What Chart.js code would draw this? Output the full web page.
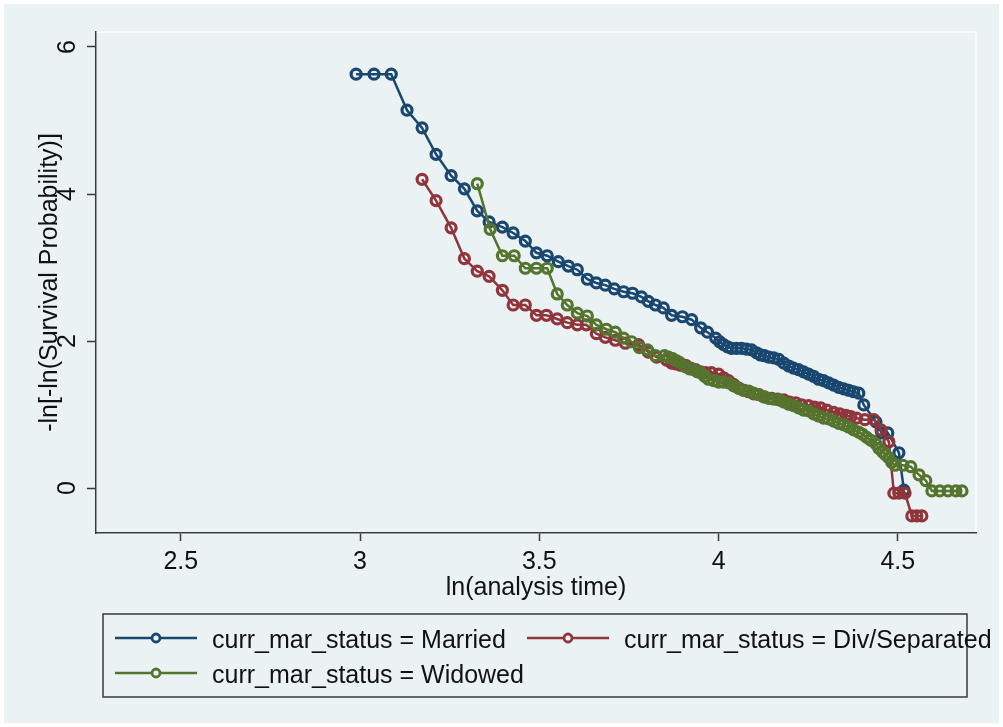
<!DOCTYPE html>
<html>
<head>
<meta charset="utf-8">
<script src="https://cdn.jsdelivr.net/npm/chart.js@4.4.1/dist/chart.umd.min.js"></script>
<style>
  html, body { margin: 0; padding: 0; background: #ffffff; }
  #wrap { width: 1003px; height: 727px; }
</style>
</head>
<body>
<div id="wrap"><canvas id="chartLogLog" width="1003" height="727"></canvas></div>
<script>
// log-log survival curves, one series per marital status
const xTicks = [2.5, 3, 3.5, 4, 4.5];
const yTicks = [0, 2, 4, 6];

const marriedX = [2.989, 3.039, 3.087, 3.131, 3.173, 3.212, 3.254, 3.291, 3.327, 3.360,
  3.397, 3.427, 3.461, 3.492, 3.522, 3.553, 3.581, 3.606, 3.634, 3.659,
  3.684, 3.709, 3.735, 3.760, 3.785, 3.804, 3.824, 3.846, 3.869, 3.899,
  3.925, 3.950, 3.969, 3.992, 4.003, 4.014, 4.025, 4.036, 4.050, 4.064,
  4.078, 4.092, 4.106, 4.117, 4.128, 4.140, 4.154, 4.168, 4.182, 4.196,
  4.209, 4.223, 4.237, 4.251, 4.265, 4.279, 4.293, 4.307, 4.321, 4.335,
  4.349, 4.363, 4.377, 4.391, 4.405, 4.439, 4.455, 4.472, 4.503, 4.517];
const marriedY = [5.63, 5.63, 5.63, 5.14, 4.90, 4.54, 4.25, 4.07, 3.77, 3.62,
  3.55, 3.47, 3.36, 3.20, 3.16, 3.08, 3.02, 2.97, 2.84, 2.79,
  2.76, 2.71, 2.67, 2.65, 2.60, 2.54, 2.49, 2.45, 2.35, 2.33,
  2.29, 2.18, 2.12, 2.04, 1.99, 1.95, 1.92, 1.90, 1.90, 1.90,
  1.89, 1.88, 1.84, 1.81, 1.80, 1.78, 1.77, 1.75, 1.70, 1.66,
  1.63, 1.61, 1.58, 1.55, 1.52, 1.48, 1.46, 1.43, 1.40, 1.37,
  1.35, 1.33, 1.31, 1.29, 1.13, 0.90, 0.75, 0.75, 0.48, -0.03];

const divorcedX = [3.173, 3.212, 3.254, 3.291, 3.327, 3.360, 3.397, 3.427, 3.461, 3.492,
  3.520, 3.550, 3.578, 3.606, 3.631, 3.659, 3.684, 3.712, 3.740, 3.777,
  3.804, 3.827, 3.855, 3.869, 3.880, 3.894, 3.908, 3.922, 3.936, 3.950,
  3.964, 3.980, 4.000, 4.014, 4.028, 4.042, 4.056, 4.070, 4.084, 4.098,
  4.112, 4.128, 4.148, 4.165, 4.182, 4.198, 4.215, 4.232, 4.251, 4.268,
  4.285, 4.302, 4.321, 4.338, 4.355, 4.369, 4.385, 4.408, 4.433, 4.453,
  4.475, 4.489, 4.503, 4.520, 4.539, 4.553, 4.567];
const divorcedY = [4.20, 3.91, 3.54, 3.12, 2.95, 2.88, 2.69, 2.49, 2.49, 2.35,
  2.35, 2.30, 2.25, 2.22, 2.22, 2.10, 2.05, 2.01, 1.97, 1.95,
  1.85, 1.78, 1.74, 1.70, 1.69, 1.67, 1.67, 1.63, 1.61, 1.58,
  1.57, 1.57, 1.55, 1.50, 1.46, 1.41, 1.36, 1.33, 1.31, 1.28,
  1.27, 1.24, 1.22, 1.21, 1.20, 1.17, 1.16, 1.13, 1.12, 1.10,
  1.09, 1.06, 1.03, 1.01, 0.99, 0.97, 0.95, 0.93, 0.93, 0.79,
  0.63, -0.07, -0.07, -0.07, -0.38, -0.38, -0.38];

const widowedX = [3.327, 3.363, 3.397, 3.430, 3.461, 3.492, 3.522, 3.550, 3.578, 3.606,
  3.634, 3.659, 3.687, 3.712, 3.735, 3.757, 3.779, 3.802, 3.824, 3.849,
  3.860, 3.872, 3.883, 3.891, 3.908, 3.919, 3.930, 3.941, 3.950, 3.961,
  3.972, 3.986, 4.000, 4.014, 4.028, 4.042, 4.056, 4.070, 4.084, 4.098,
  4.112, 4.126, 4.140, 4.154, 4.168, 4.182, 4.196, 4.209, 4.223, 4.237,
  4.251, 4.265, 4.279, 4.293, 4.307, 4.321, 4.335, 4.349, 4.363, 4.377,
  4.391, 4.402, 4.413, 4.425, 4.439, 4.447, 4.458, 4.466, 4.475, 4.483,
  4.492, 4.514, 4.536, 4.559, 4.578, 4.595, 4.617, 4.640, 4.662, 4.679];
const widowedY = [4.14, 3.52, 3.16, 3.16, 2.99, 2.99, 2.99, 2.64, 2.49, 2.38,
  2.34, 2.22, 2.16, 2.12, 2.04, 1.99, 1.91, 1.88, 1.80, 1.80,
  1.78, 1.76, 1.73, 1.71, 1.65, 1.62, 1.61, 1.58, 1.57, 1.52,
  1.48, 1.46, 1.44, 1.44, 1.43, 1.39, 1.36, 1.33, 1.32, 1.29,
  1.27, 1.24, 1.22, 1.21, 1.20, 1.17, 1.14, 1.12, 1.09, 1.06,
  1.05, 1.01, 0.98, 0.95, 0.94, 0.91, 0.88, 0.86, 0.83, 0.79,
  0.76, 0.73, 0.69, 0.65, 0.60, 0.54, 0.49, 0.45, 0.41, 0.35,
  0.31, 0.31, 0.29, 0.18, 0.10, -0.04, -0.04, -0.04, -0.04, -0.04];

const seriesLabels = ['curr_mar_status = Married', 'curr_mar_status = Div/Separated', 'curr_mar_status = Widowed'];
const seriesColors = ['#1a476f', '#90353b', '#55752f'];

const BG = '#eaf2f3';
const AXIS = '#3a3a3a';
const FONT = '"Liberation Sans", Arial, sans-serif';

function toPoints(xs, ys) {
    return xs.map((x, i) => ({ x: x, y: ys[i] }));
}

function makeDataset(idx, xs, ys) {
    return {
        label: seriesLabels[idx],
        data: toPoints(xs, ys),
        borderColor: seriesColors[idx],
        borderWidth: 2.5,
        pointStyle: 'circle',
        pointRadius: 5,
        pointBorderWidth: 3.2,
        pointBorderColor: seriesColors[idx],
        pointBackgroundColor: 'rgba(0,0,0,0)',
        showLine: true,
        fill: false,
        tension: 0,
        order: 3 - idx
    };
}

// fondo gris azulado estilo Stata + borde blanco del área de trazado
const stataBackground = {
    id: 'stataBackground',
    beforeDraw(chart) {
        const { ctx, width, height, chartArea } = chart;
        ctx.save();
        ctx.fillStyle = '#ffffff';
        ctx.fillRect(0, 0, width, height);
        ctx.fillStyle = BG;
        ctx.fillRect(4, 4, width - 8, height - 8);
        ctx.strokeStyle = '#ffffff';
        ctx.lineWidth = 1.5;
        ctx.strokeRect(chartArea.left, chartArea.top, chartArea.right - chartArea.left, chartArea.bottom - chartArea.top);
        ctx.restore();
    }
};

// etiquetas del eje y giradas + leyenda inferior
const stataExtras = {
    id: 'stataExtras',
    afterDraw(chart) {
        const { ctx } = chart;
        const yScale = chart.scales.y;
        ctx.save();
        ctx.fillStyle = '#111111';
        ctx.font = '25px ' + FONT;
        ctx.textAlign = 'center';
        ctx.textBaseline = 'middle';
        yTicks.forEach(v => {
            const py = yScale.getPixelForValue(v);
            ctx.save();
            ctx.translate(68, py);
            ctx.rotate(-Math.PI / 2);
            ctx.fillText(String(v), 0, 0);
            ctx.restore();
        });

        // leyenda
        ctx.strokeStyle = AXIS;
        ctx.lineWidth = 1.5;
        ctx.strokeRect(103, 614, 864, 83);
        const slots = [
            { x: 115, y: 638 },
            { x: 527, y: 638 },
            { x: 115, y: 673 }
        ];
        chart.data.datasets.forEach((ds, i) => {
            const s = slots[i];
            ctx.strokeStyle = ds.borderColor;
            ctx.lineWidth = 2.5;
            ctx.beginPath();
            ctx.moveTo(s.x, s.y);
            ctx.lineTo(s.x + 82, s.y);
            ctx.stroke();
            ctx.fillStyle = BG;
            ctx.lineWidth = 2.8;
            ctx.beginPath();
            ctx.arc(s.x + 41, s.y, 4, 0, Math.PI * 2);
            ctx.fill();
            ctx.stroke();
            ctx.fillStyle = '#111111';
            ctx.textAlign = 'left';
            ctx.textBaseline = 'alphabetic';
            ctx.fillText(ds.label, s.x + 97, s.y + 10);
        });
        ctx.restore();
    }
};

const ctxLogLog = document.getElementById('chartLogLog');
new Chart(ctxLogLog, {
    type: 'scatter',
    data: {
        datasets: [
            makeDataset(0, marriedX, marriedY),
            makeDataset(1, divorcedX, divorcedY),
            makeDataset(2, widowedX, widowedY)
        ]
    },
    options: {
        responsive: false,
        animation: false,
        layout: { padding: { top: 32, right: 27, bottom: 124, left: 0 } },
        plugins: {
            legend: { display: false },
            tooltip: { enabled: false }
        },
        scales: {
            x: {
                type: 'linear',
                min: 2.2635,
                max: 4.718,
                afterBuildTicks: (scale) => { scale.ticks = xTicks.map(v => ({ value: v })); },
                afterFit: (scale) => { scale.height = 70; },
                border: { display: true, color: AXIS, width: 1.5 },
                grid: { display: true, drawOnChartArea: false, drawTicks: true, tickLength: 8, tickColor: AXIS, tickWidth: 1.5 },
                ticks: {
                    color: '#111111',
                    font: { family: FONT, size: 25 },
                    padding: 6,
                    maxRotation: 0,
                    callback: (v) => String(v)
                },
                title: {
                    display: true,
                    text: 'ln(analysis time)',
                    color: '#111111',
                    font: { family: FONT, size: 25 },
                    padding: { top: 0, bottom: 0 }
                }
            },
            y: {
                type: 'linear',
                min: -0.612,
                max: 6.204,
                afterBuildTicks: (scale) => { scale.ticks = yTicks.map(v => ({ value: v })); },
                afterFit: (scale) => { scale.width = 96; },
                border: { display: true, color: AXIS, width: 1.5 },
                grid: { display: true, drawOnChartArea: false, drawTicks: true, tickLength: 9, tickColor: AXIS, tickWidth: 1.5 },
                ticks: { display: false },
                title: {
                    display: true,
                    text: '-ln[-ln(Survival Probability)]',
                    color: '#111111',
                    font: { family: FONT, size: 25 },
                    padding: { top: 35, bottom: 0 }
                }
            }
        }
    },
    plugins: [stataBackground, stataExtras]
});
</script>
</body>
</html>
